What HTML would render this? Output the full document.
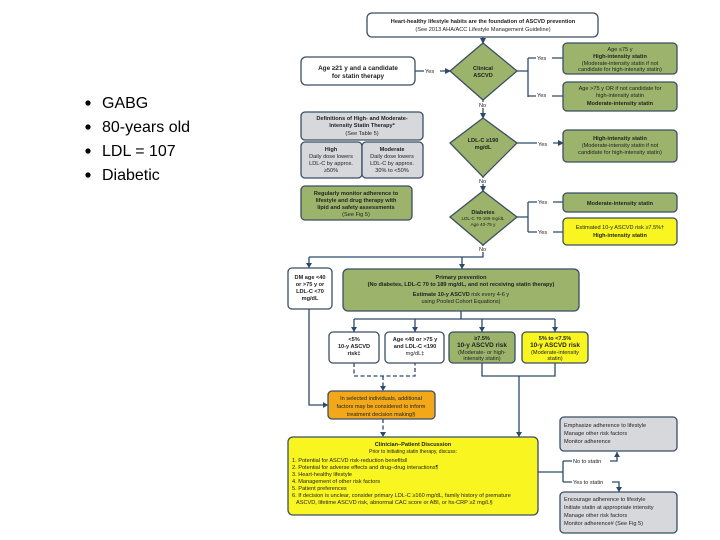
<!DOCTYPE html>
<html><head><meta charset="utf-8"><style>
html,body{margin:0;padding:0;background:#fff;width:720px;height:540px;overflow:hidden}
svg{display:block}
text{font-family:"Liberation Sans",Arial,sans-serif;fill:#222}
.b{font-weight:bold}
.s{font-size:5.6px}
.m{font-size:6.4px}
</style></head><body>
<svg width="720" height="540" viewBox="0 0 720 540" xmlns="http://www.w3.org/2000/svg">
<defs><marker id="a" markerWidth="6" markerHeight="6" refX="5" refY="3" orient="auto" markerUnits="userSpaceOnUse"><path d="M0,0 L6,3 L0,6z" fill="#2d4a6b"/></marker></defs>
<!-- bullets -->
<g font-size="16">
<circle cx="88" cy="103" r="2.6" fill="#000"/><text x="102" y="108" style="font-size:16px;fill:#000">GABG</text>
<circle cx="88" cy="127" r="2.6" fill="#000"/><text x="102" y="132" style="font-size:16px;fill:#000">80-years old</text>
<circle cx="88" cy="151" r="2.6" fill="#000"/><text x="102" y="156" style="font-size:16px;fill:#000">LDL = 107</text>
<circle cx="88" cy="175" r="2.6" fill="#000"/><text x="102" y="180" style="font-size:16px;fill:#000">Diabetic</text>
</g>
<g stroke="#2d4a6b" stroke-width="1.3" fill="none">
<!-- connectors -->
<path d="M483 37 V43" marker-end="url(#a)"/>
<path d="M415 71 H450" marker-end="url(#a)"/>
<path d="M517 71 H528 M528 58 V97 M528 58 H563 M528 96 H563"/>
<path d="M483 100 V118" marker-end="url(#a)"/>
<path d="M517 143 H563" marker-end="url(#a)"/>
<path d="M483 177 V191" marker-end="url(#a)"/>
<path d="M517 217 H528 M528 202 V232 M528 202 H563 M528 232 H563"/>
<path d="M483 245 V257 H309 M309 257 V268 M462 257 V269"/>
<path d="M461 311 V319 M354 319 H555 M354 319 V332 M415 319 V332 M482 319 V332 M555 319 V332"/>
<path d="M482 363 V376 H555 V363 M519 376 V437"/>
<path d="M309 309 V405 H328"/>
<path d="M538 472 H563 M563 461 V482 M563 461 H617 V452 M563 482 H619 V492"/>
</g>
<g fill="#2d4a6b">
<path d="M306 263 L312 263 L309 268z"/><path d="M459 264 L465 264 L462 269z"/>
<path d="M351 327 L357 327 L354 332z"/><path d="M412 327 L418 327 L415 332z"/>
<path d="M479 327 L485 327 L482 332z"/><path d="M552 327 L558 327 L555 332z"/>
<path d="M516 432 L522 432 L519 437z"/><path d="M323 402 L328 405 L323 408z"/>
<path d="M380 386 L386 386 L383 391z"/><path d="M380 432 L386 432 L383 437z"/>
<path d="M614 457 L620 457 L617 452z"/><path d="M616 487 L622 487 L619 492z"/>
</g>
<path d="M354 363 V376 H415 V363 M383 376 V386 M383 419 V432" stroke="#2d4a6b" stroke-width="1.3" fill="none" stroke-dasharray="4,2.5"/>
<!-- connector labels -->
<g class="s">
<rect x="424" y="67" width="16" height="7" fill="#fff"/><text x="425" y="73">Yes</text>
<rect x="536" y="54" width="16" height="7" fill="#fff"/><text x="537" y="60">Yes</text>
<rect x="536" y="91" width="16" height="7" fill="#fff"/><text x="537" y="97">Yes</text>
<rect x="537" y="139" width="16" height="7" fill="#fff"/><text x="538" y="146">Yes</text>
<rect x="537" y="198" width="16" height="7" fill="#fff"/><text x="538" y="204">Yes</text>
<rect x="537" y="228" width="16" height="7" fill="#fff"/><text x="538" y="234">Yes</text>
<rect x="478" y="102" width="12" height="6" fill="#fff"/><text x="479" y="107">No</text>
<rect x="478" y="178" width="12" height="6" fill="#fff"/><text x="479" y="183">No</text>
<rect x="478" y="246" width="12" height="6" fill="#fff"/><text x="479" y="251">No</text>
<rect x="572" y="457" width="38" height="7" fill="#fff"/><text x="573" y="463">No to statin</text>
<rect x="572" y="478" width="40" height="7" fill="#fff"/><text x="573" y="484">Yes to statin</text>
</g>
<!-- boxes -->
<g stroke="#3b4e63" stroke-width="1.3">
<rect x="367" y="13" width="231" height="24" rx="5" fill="#fff"/>
<rect x="301" y="57" width="114" height="28" rx="5" fill="#fff"/>
<rect x="563" y="43" width="114" height="31" rx="4" fill="#9bb36b"/>
<rect x="563" y="82" width="114" height="29" rx="4" fill="#9bb36b"/>
<rect x="301" y="112" width="122" height="28" rx="4" fill="#d6d8dc"/>
<rect x="301" y="142" width="61" height="36" rx="4" fill="#d6d8dc"/>
<rect x="362" y="142" width="61" height="36" rx="4" fill="#d6d8dc"/>
<rect x="301" y="186" width="111" height="34" rx="4" fill="#9bb36b"/>
<rect x="563" y="130" width="114" height="32" rx="4" fill="#9bb36b"/>
<rect x="563" y="193" width="114" height="19" rx="4" fill="#9bb36b"/>
<rect x="563" y="218" width="114" height="27" rx="4" fill="#f8f520"/>
<path d="M483 43 L517 71 L483 100 L450 71z" fill="#9bb36b"/>
<path d="M483 118 L517 143 L483 177 L450 143z" fill="#9bb36b"/>
<path d="M483 191 L517 217 L483 245 L450 217z" fill="#9bb36b"/>
<rect x="288" y="268" width="44" height="41" rx="4" fill="#fff"/>
<rect x="343" y="269" width="236" height="42" rx="5" fill="#9bb36b"/>
<rect x="329" y="332" width="50" height="31" rx="4" fill="#fff"/>
<rect x="385" y="332" width="59" height="31" rx="4" fill="#fff"/>
<rect x="449" y="332" width="66" height="31" rx="4" fill="#9bb36b"/>
<rect x="522" y="332" width="66" height="31" rx="4" fill="#f8f520"/>
<rect x="328" y="391" width="107" height="28" rx="4" fill="#f2a818"/>
<rect x="288" y="437" width="250" height="78" rx="5" fill="#f8f520"/>
<rect x="560" y="417" width="117" height="34" rx="4" fill="#d6d8dc"/>
<rect x="560" y="492" width="117" height="41" rx="4" fill="#d6d8dc"/>
</g>
<!-- box text -->
<g class="s" text-anchor="middle">
<text x="483" y="23" class="b">Heart-healthy lifestyle habits are the foundation of ASCVD prevention</text>
<text x="483" y="31">(See 2013 AHA/ACC Lifestyle Management Guideline)</text>
<text x="358" y="70" class="b m">Age ≥21 y and a candidate</text>
<text x="358" y="78" class="b m">for statin therapy</text>
<text x="483" y="70" class="b">Clinical</text><text x="483" y="77" class="b">ASCVD</text>
<text x="620" y="51">Age ≤75 y</text><text x="620" y="58" class="b">High-intensity statin</text>
<text x="620" y="65">(Moderate-intensity statin if not</text><text x="620" y="71">candidate for high-intensity statin)</text>
<text x="620" y="90">Age &gt;75 y OR if not candidate for</text><text x="620" y="97">high-intensity statin</text>
<text x="620" y="105" class="b">Moderate-intensity statin</text>
<text x="362" y="120" class="b">Definitions of High- and Moderate-</text>
<text x="362" y="127" class="b">Intensity Statin Therapy*</text><text x="362" y="135">(See Table 5)</text>
<text x="331" y="151" class="b">High</text><text x="331" y="158">Daily dose lowers</text><text x="331" y="165">LDL-C by approx.</text><text x="331" y="172">≥50%</text>
<text x="392" y="151" class="b">Moderate</text><text x="392" y="158">Daily dose lowers</text><text x="392" y="165">LDL-C by approx.</text><text x="392" y="172">30% to &lt;50%</text>
<text x="356" y="195" class="b">Regularly monitor adherence to</text><text x="356" y="202" class="b">lifestyle and drug therapy with</text>
<text x="356" y="209" class="b">lipid and safety assessments</text><text x="356" y="216">(See Fig 5)</text>
<text x="483" y="142" class="b">LDL-C ≥190</text><text x="483" y="149" class="b">mg/dL</text>
<text x="620" y="140" class="b">High-intensity statin</text><text x="620" y="147">(Moderate-intensity statin if not</text><text x="620" y="154">candidate for high-intensity statin)</text>
<text x="483" y="214" class="b">Diabetes</text><text x="483" y="220" style="font-size:4.6px">LDL-C 70-189 mg/dL</text><text x="483" y="226" style="font-size:4.6px">Age 40-75 y</text>
<text x="620" y="205" class="b">Moderate-intensity statin</text>
<text x="620" y="229">Estimated 10-y ASCVD risk ≥7.5%†</text><text x="620" y="237" class="b">High-intensity statin</text>
<text x="310" y="279" class="b">DM age &lt;40</text><text x="310" y="286" class="b">or &gt;75 y or</text><text x="310" y="293" class="b">LDL-C &lt;70</text><text x="310" y="300" class="b">mg/dL</text>
<text x="461" y="279" class="b">Primary prevention</text>
<text x="461" y="286" class="b">(No diabetes, LDL-C 70 to 189 mg/dL, and not receiving statin therapy)</text>
<text x="461" y="296"><tspan class="b">Estimate 10-y ASCVD</tspan> risk every 4-6 y</text>
<text x="461" y="303">using Pooled Cohort Equations)</text>
<text x="354" y="341" class="b">&lt;5%</text><text x="354" y="348" class="b">10-y ASCVD</text><text x="354" y="355" class="b">risk‡</text>
<text x="415" y="341" class="b">Age &lt;40 or &gt;75 y</text><text x="415" y="348" class="b">and LDL-C &lt;190</text><text x="415" y="355">mg/dL‡</text>
<text x="482" y="340" class="b">≥7.5%</text><text x="482" y="347" class="b m">10-y ASCVD risk</text><text x="482" y="354">(Moderate- or high-</text><text x="482" y="360">intensity statin)</text>
<text x="555" y="340" class="b">5% to &lt;7.5%</text><text x="555" y="347" class="b m">10-y ASCVD risk</text><text x="555" y="354">(Moderate-intensity</text><text x="555" y="360">statin)</text>
<text x="381" y="400">In selected individuals, additional</text><text x="381" y="408">factors may be considered to inform</text><text x="381" y="416">treatment decision making§</text>
<text x="413" y="446" class="b">Clinician–Patient Discussion</text>
<text x="413" y="453" style="font-size:5px">Prior to initiating statin therapy, discuss:</text>
</g>
<g class="s">
<text x="292" y="462">1. Potential for ASCVD risk-reduction benefits‖</text>
<text x="292" y="469">2. Potential for adverse effects and drug–drug interactions¶</text>
<text x="292" y="476">3. Heart-healthy lifestyle</text>
<text x="292" y="483">4. Management of other risk factors</text>
<text x="292" y="490">5. Patient preferences</text>
<text x="292" y="497">6. If decision is unclear, consider primary LDL-C ≥160 mg/dL, family history of premature</text>
<text x="296" y="504">ASCVD, lifetime ASCVD risk, abnormal CAC score or ABI, or hs-CRP ≥2 mg/L§</text>
<text x="564" y="427">Emphasize adherence to lifestyle</text>
<text x="564" y="435">Manage other risk factors</text>
<text x="564" y="443">Monitor adherence</text>
<text x="564" y="501">Encourage adherence to lifestyle</text>
<text x="564" y="509">Initiate statin at appropriate intensity</text>
<text x="564" y="517">Manage other risk factors</text>
<text x="564" y="525">Monitor adherence# (See Fig 5)</text>
</g>
</svg>
</body></html>
